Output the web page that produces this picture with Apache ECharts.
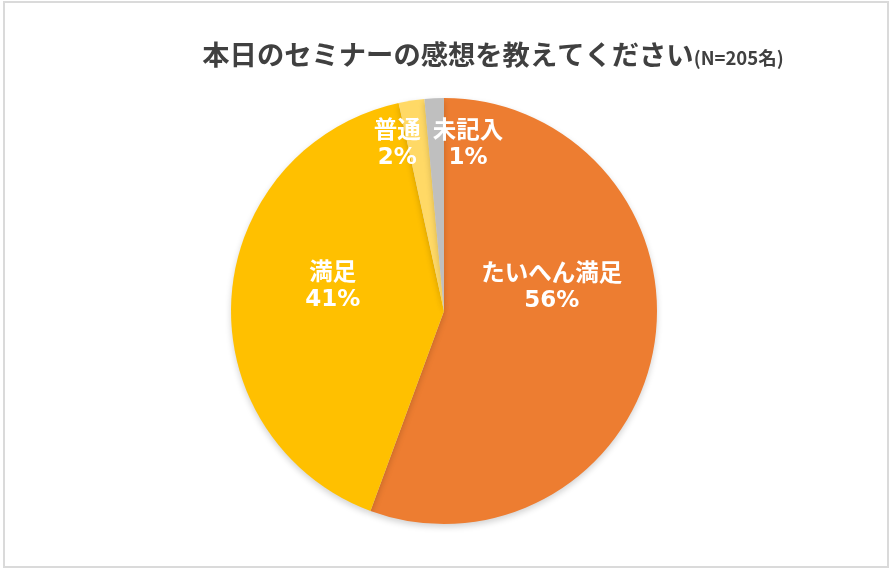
<!DOCTYPE html>
<html>
<head>
<meta charset="utf-8">
<script src="https://cdn.jsdelivr.net/npm/echarts@6/dist/echarts.min.js"></script>
<style>
html,body{margin:0;padding:0;background:#fff;}
#frame{position:absolute;left:3px;top:1px;width:882px;height:563px;border:2px solid #dadada;box-sizing:content-box;}
#chart{position:absolute;left:0;top:0;width:890px;height:569px;}
</style>
</head>
<body>
<div id="frame"></div>
<div id="chart"></div>
<script>
const titleMain = '本日のセミナーの感想を教えてください';
const titleSub = '(N=205名)';
const categories = ['たいへん満足', '満足', '普通', '未記入'];
const counts = [114, 84, 4, 3];
const colors = ['#ED7D31', '#FFC000', '#FFD966', '#BFBFBF'];
const labelShift = [[0, -44], [-2, -18], [-30, -59], [29, -58]];

const total = counts.reduce((a, b) => a + b, 0);
const chart = echarts.init(document.getElementById('chart'));
chart.setOption({
  animation: false,
  title: {
    text: '{m|' + titleMain + '}{s|' + titleSub + '}',
    left: 488,
    top: 36,
    textAlign: 'center',
    textStyle: {
      rich: {
        m: {fontFamily: 'Noto Sans CJK JP', fontSize: 27.3, fontWeight: 'bold', color: '#404040'},
        s: {fontFamily: 'Noto Sans CJK JP', fontSize: 18.5, fontWeight: 'bold', color: '#404040', padding: [7, 0, 0, 0]}
      }
    }
  },
  series: [{
    type: 'pie',
    center: [444, 311],
    radius: [0, 213],
    startAngle: 90,
    clockwise: true,
    data: categories.map((c, i) => ({name: c, value: counts[i], itemStyle: {color: colors[i]}})),
    itemStyle: {
      borderWidth: 0,
      shadowBlur: 6,
      shadowOffsetY: 3,
      shadowColor: 'rgba(0,0,0,0.18)'
    },
    label: {
      show: true,
      position: 'inside',
      color: '#fff',
      lineHeight: 29,
      formatter: p => '{n|' + p.name + '}\n{p|' + Math.round(p.value / total * 100) + '%}',
      rich: {
        n: {fontFamily: 'Noto Sans CJK JP', fontSize: 23.5, fontWeight: 'bold', color: '#fff', lineHeight: 29},
        p: {fontFamily: 'DejaVu Sans', fontSize: 23, fontWeight: 'bold', color: '#fff', lineHeight: 29}
      }
    },
    labelLine: {show: false},
    labelLayout: p => ({dx: labelShift[p.dataIndex][0], dy: labelShift[p.dataIndex][1]}),
    emphasis: {disabled: true}
  }]
});
</script>
</body>
</html>
